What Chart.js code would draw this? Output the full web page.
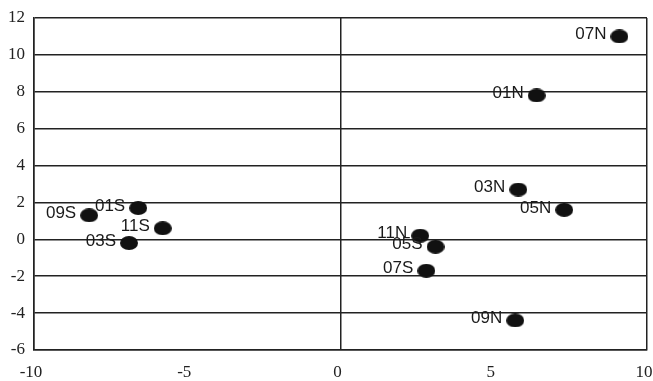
<!DOCTYPE html>
<html>
<head>
<meta charset="utf-8">
<script src="https://cdn.jsdelivr.net/npm/chart.js@4/dist/chart.umd.min.js"></script>
<style>
  html, body { margin: 0; padding: 0; background: #fff; }
  #wrap { width: 653px; height: 381px; }
</style>
</head>
<body>
<div id="wrap"><canvas id="c" width="653" height="381"></canvas></div>
<script>
const pointLabels = ['07N', '01N', '03N', '05N', '11N', '05S', '07S', '09N', '09S', '01S', '11S', '03S'];
const xValues = [9.1, 6.4, 5.8, 7.3, 2.6, 3.1, 2.8, 5.7, -8.2, -6.6, -5.8, -6.9];
const yValues = [11.0, 7.8, 2.7, 1.6, 0.2, -0.4, -1.7, -4.4, 1.3, 1.7, 0.6, -0.2];
const xTicks = [-10, -5, 0, 5, 10];
const yTicks = [-6, -4, -2, 0, 2, 4, 6, 8, 10, 12];

const points = xValues.map((x, i) => ({ x: x, y: yValues[i] }));

// ellipse marker
const marker = document.createElement('canvas');
marker.width = 18; marker.height = 14;
(function () {
  const g = marker.getContext('2d');
  g.fillStyle = '#111';
  g.beginPath();
  g.ellipse(9, 7, 9, 7, 0, 0, Math.PI * 2);
  g.fill();
})();

const labelPlugin = {
  id: 'pointLabels',
  afterDatasetsDraw(chart) {
    const ctx = chart.ctx;
    const meta = chart.getDatasetMeta(0);
    ctx.save();
    ctx.font = '17px "Liberation Sans", Arial, sans-serif';
    ctx.fillStyle = '#1a1a1a';
    ctx.textAlign = 'right';
    ctx.textBaseline = 'middle';
    meta.data.forEach((el, i) => {
      ctx.fillText(pointLabels[i], el.x - 13, el.y - 2);
    });
    ctx.restore();
  }
};

new Chart(document.getElementById('c'), {
  type: 'scatter',
  data: {
    datasets: [{
      data: points,
      pointStyle: marker,
      pointRadius: 8,
      backgroundColor: '#111',
      borderColor: '#111'
    }]
  },
  options: {
    responsive: false,
    animation: false,
    layout: { autoPadding: false, padding: { top: 18, right: 6, left: 0, bottom: 0 } },
    plugins: { legend: { display: false }, tooltip: { enabled: false } },
    scales: {
      x: {
        type: 'linear',
        min: -10, max: 10,
        afterBuildTicks(scale) { scale.ticks = xTicks.map(v => ({ value: v })); },
        afterFit(scale) { scale.height = 31; scale.paddingLeft = 0; scale.paddingRight = 0; },
        ticks: {
          padding: 12,
          labelOffset: -3,
          color: '#222',
          font: { family: '"Liberation Serif", "Times New Roman", serif', size: 17 }
        },
        grid: {
          drawTicks: false,
          lineWidth: 1.5,
          color: ctx => (ctx.tick && (ctx.tick.value === 0 || ctx.tick.value === -10 || ctx.tick.value === 10)) ? '#222' : 'rgba(0,0,0,0)'
        },
        border: { display: true, color: '#222', width: 1.5 }
      },
      y: {
        type: 'linear',
        min: -6, max: 12,
        afterBuildTicks(scale) { scale.ticks = yTicks.map(v => ({ value: v })); },
        afterFit(scale) { scale.width = 34; scale.paddingTop = 0; scale.paddingBottom = 0; },
        ticks: {
          padding: 9,
          color: '#222',
          font: { family: '"Liberation Serif", "Times New Roman", serif', size: 17 }
        },
        grid: { drawTicks: false, lineWidth: 1.5, color: '#222' },
        border: { display: true, color: '#222', width: 1.5 }
      }
    }
  },
  plugins: [labelPlugin]
});
</script>
</body>
</html>
